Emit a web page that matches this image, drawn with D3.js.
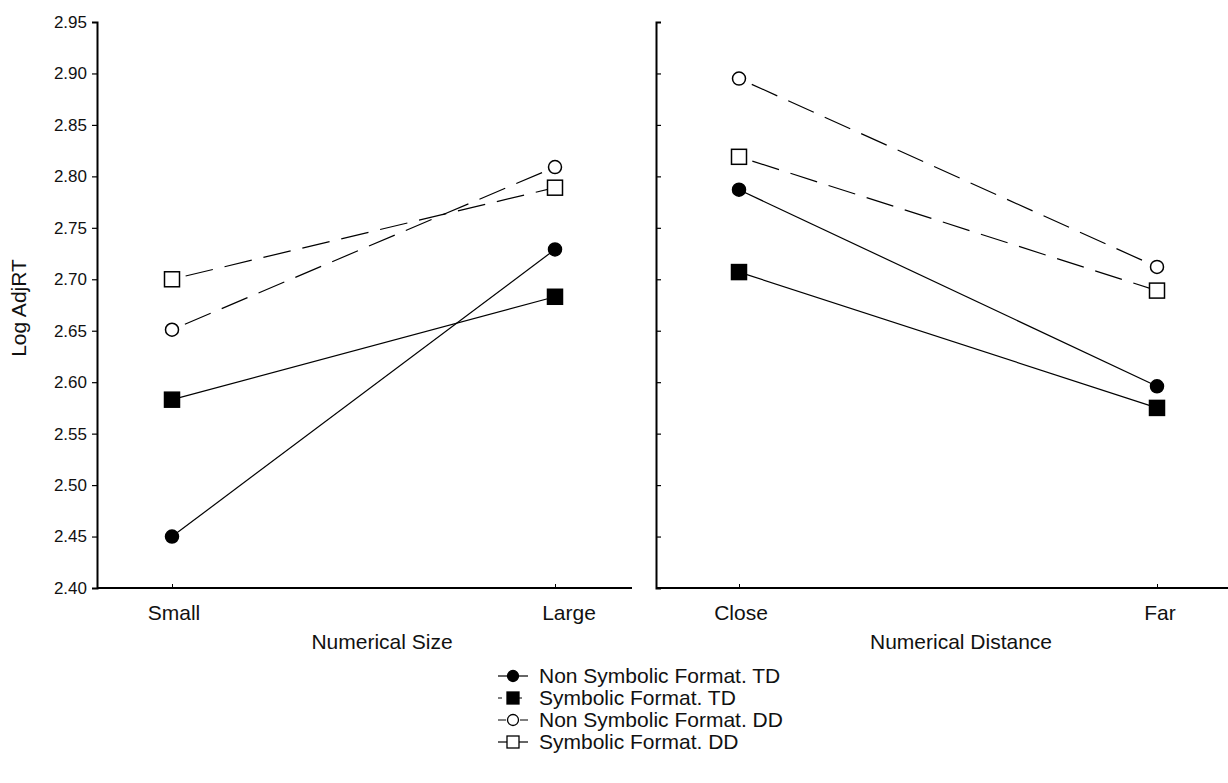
<!DOCTYPE html>
<html>
<head>
<meta charset="utf-8">
<script src="https://cdn.jsdelivr.net/npm/d3@7"></script>
<style>
  body { margin: 0; background: #fff; }
  text { font-family: "Liberation Sans", Arial, sans-serif; fill: #111; }
</style>
</head>
<body>
<script>
"use strict";
var width = 1228, height = 783;

// data
var sizeCats = ['Small', 'Large'];
var distCats = ['Close', 'Far'];
var seriesNames = ['Non Symbolic Format. TD', 'Symbolic Format. TD', 'Non Symbolic Format. DD', 'Symbolic Format. DD'];
var sizeValues = [
  [2.450, 2.729],
  [2.583, 2.683],
  [2.651, 2.809],
  [2.700, 2.789]
];
var distValues = [
  [2.787, 2.596],
  [2.707, 2.575],
  [2.895, 2.712],
  [2.819, 2.689]
];
var yTicks = [2.40, 2.45, 2.50, 2.55, 2.60, 2.65, 2.70, 2.75, 2.80, 2.85, 2.90, 2.95];
var markers = ['circle', 'square', 'circle', 'square'];
var filled = [true, true, false, false];
var dashed = [false, false, true, true];

var label_size = '21px';
var tick_size = '17px';

var svg = d3.select('body').append('svg')
  .attr('width', width)
  .attr('height', height);

var top_y = 22, bottom_y = 588;
var y = d3.scaleLinear().domain([2.40, 2.95]).range([bottom_y, top_y]);

function drawMarker(g, type, isFilled, cx, cy, r) {
  if (type === 'circle') {
    g.append('circle')
      .attr('cx', cx).attr('cy', cy).attr('r', r)
      .attr('fill', isFilled ? '#000' : '#fff')
      .attr('stroke', '#000').attr('stroke-width', 1.5);
  } else {
    g.append('rect')
      .attr('x', cx - r - 1).attr('y', cy - r - 1)
      .attr('width', 2 * r + 2).attr('height', 2 * r + 2)
      .attr('fill', isFilled ? '#000' : '#fff')
      .attr('stroke', '#000').attr('stroke-width', 1.5);
  }
}

function drawPanel(cats, values, axisX, xRange, xEnd, tickSide, xTitle, titleX) {
  var x = d3.scalePoint().domain(cats).range(xRange);
  var g = svg.append('g');

  // y axis
  var yAxis = (tickSide === 'left' ? d3.axisLeft(y) : d3.axisRight(y))
    .tickValues(yTicks)
    .tickSize(5)
    .tickFormat(tickSide === 'left' ? d3.format('.2f') : '');
  var ya = g.append('g')
    .attr('transform', 'translate(' + axisX + ',0)')
    .call(yAxis);
  ya.select('.domain').attr('stroke-width', 2);
  ya.selectAll('.tick line').attr('stroke-width', 1.2);
  ya.selectAll('.tick text')
    .attr('font-size', tick_size)
    .attr('x', -10)
    .attr('fill', '#111');
  ya.selectAll('.tick').filter(function(d) { return d === 2.40 || d === 2.95; }).select('line').remove();

  // x axis
  var xAxis = d3.axisTop(x).tickSize(4).tickFormat('');
  var xa = g.append('g')
    .attr('transform', 'translate(0,' + bottom_y + ')')
    .call(xAxis);
  xa.select('.domain').remove();
  g.append('line')
    .attr('x1', axisX).attr('x2', xEnd)
    .attr('y1', bottom_y).attr('y2', bottom_y)
    .attr('stroke', '#000').attr('stroke-width', 2);

  cats.forEach(function(c) {
    g.append('text')
      .attr('x', x(c) + (c === 'Large' ? 14 : (c === 'Far' ? 3 : 2)))
      .attr('y', bottom_y + 32)
      .attr('text-anchor', 'middle')
      .attr('font-size', label_size)
      .text(c);
  });

  g.append('text')
    .attr('x', titleX)
    .attr('y', bottom_y + 61)
    .attr('text-anchor', 'middle')
    .attr('font-size', label_size)
    .text(xTitle);

  var line = d3.line()
    .x(function(d, i) { return x(cats[i]); })
    .y(function(d) { return y(d); });

  values.forEach(function(vals, s) {
    g.append('path')
      .datum(vals)
      .attr('d', line)
      .attr('fill', 'none')
      .attr('stroke', '#000')
      .attr('stroke-width', 1.2)
      .attr('stroke-dasharray', dashed[s] ? '28,12' : null)
      .attr('stroke-dashoffset', dashed[s] ? -14 : null);
  });
  values.forEach(function(vals, s) {
    vals.forEach(function(v, i) {
      drawMarker(g, markers[s], filled[s], x(cats[i]), y(v), 6.5);
    });
  });
}

drawPanel(sizeCats, sizeValues, 97, [172, 555], 632, 'left', 'Numerical Size', 382);
drawPanel(distCats, distValues, 656, [739, 1157], 1228, 'right', 'Numerical Distance', 961);

svg.append('text')
  .attr('transform', 'translate(26,' + 308 + ') rotate(-90)')
  .attr('text-anchor', 'middle')
  .attr('font-size', label_size)
  .text('Log AdjRT');

// legend
var legend = svg.append('g').attr('transform', 'translate(513,676)');
seriesNames.forEach(function(name, i) {
  var row = legend.append('g').attr('transform', 'translate(0,' + (i * 22) + ')');
  row.append('line')
    .attr('x1', -15).attr('x2', 15)
    .attr('y1', 0).attr('y2', 0)
    .attr('stroke', '#000').attr('stroke-width', 1.2)
    .attr('stroke-dasharray', i === 1 ? '4,6' : (i === 2 ? '8,3' : null));
  if (markers[i] === 'circle') {
    row.append('circle').attr('cx', 0).attr('cy', 0).attr('r', 5.5)
      .attr('fill', filled[i] ? '#000' : '#fff')
      .attr('stroke', '#000').attr('stroke-width', 1.3);
  } else {
    row.append('rect').attr('x', -6).attr('y', -6).attr('width', 12).attr('height', 12)
      .attr('fill', filled[i] ? '#000' : '#fff')
      .attr('stroke', '#000').attr('stroke-width', 1.3);
  }
  row.append('text')
    .attr('x', 26)
    .attr('y', 7)
    .attr('font-size', label_size)
    .text(name);
});
</script>
</body>
</html>
